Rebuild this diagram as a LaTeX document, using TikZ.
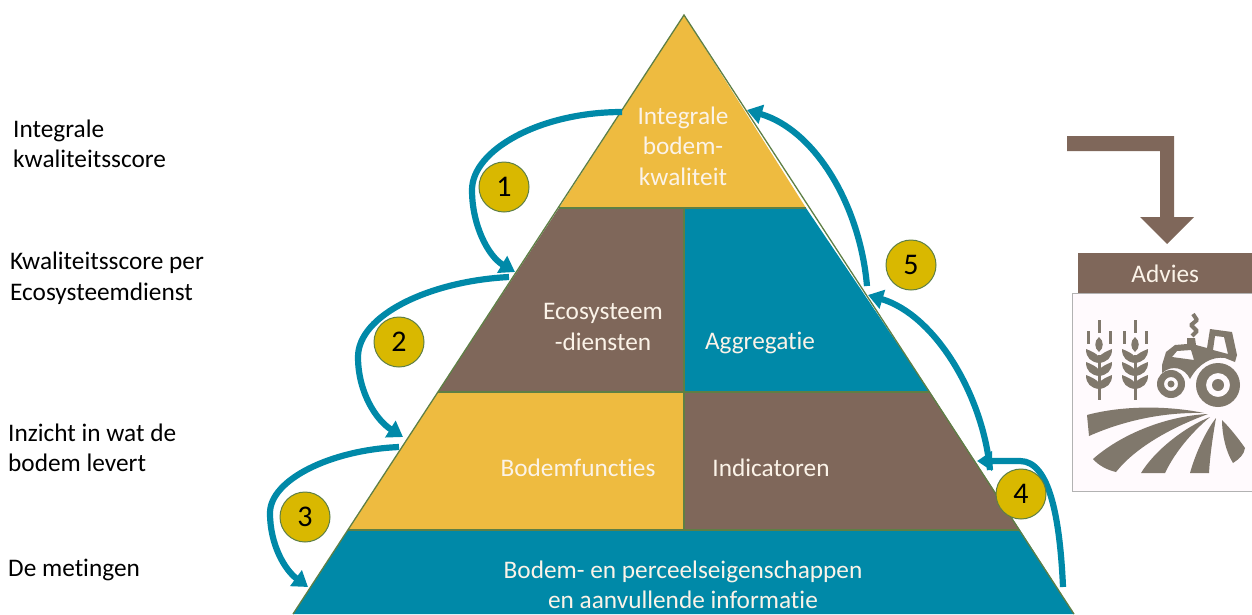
\documentclass[tikz,border=0pt]{standalone}
\usepackage{fontspec}
\setmainfont[Ligatures=NoCommon]{Carlito}
\usetikzlibrary{arrows.meta}
\definecolor{teal1}{HTML}{0089A8}
\definecolor{brown1}{HTML}{7F675A}
\definecolor{yellow1}{HTML}{EEBB40}
\definecolor{gold1}{HTML}{D9B800}
\definecolor{edge1}{HTML}{5E7F45}
\definecolor{icon1}{HTML}{80786C}
\definecolor{light1}{HTML}{FBF3E8}
\tikzset{
    layer/.style={draw=edge1, line width=1.3pt},
    lab/.style={font=\fontsize{25.3}{28}\selectfont, anchor=base west, inner sep=0pt},
    inlab/.style={font=\fontsize{25.3}{30.5}\selectfont, text=light1, align=center, inner sep=0pt},
    num/.style={circle, draw=edge1, line width=1pt, fill=gold1, minimum size=50pt, inner sep=0pt, font=\fontsize{30}{30}\selectfont},
    flow/.style={draw=teal1, line width=6.2pt, -{Triangle[length=15pt,width=19pt]}},
}
\begin{document}
\begin{tikzpicture}[x=1pt,y=-1pt]
    \useasboundingbox (0,0) rectangle (1252,614);

    \coordinate (apex) at (684,15);
    \coordinate (l1) at (559,208);
    \coordinate (r1) at (806,208);
    \coordinate (l2) at (438,392);
    \coordinate (r2) at (930,392);
    \coordinate (l3) at (348,530);
    \coordinate (r3) at (1020,530);
    \coordinate (l4) at (293,614);
    \coordinate (r4) at (1074,614);
    \coordinate (m1) at (684,208);
    \coordinate (m2) at (684,392);
    \coordinate (m3) at (684,530);

    \fill[teal1] (l3) -- (r3) -- (r4) -- (l4) -- cycle;
    \fill[yellow1] (apex) -- (r1) -- (l1) -- cycle;
    \fill[brown1] (l1) -- (m1) -- (m2) -- (l2) -- cycle;
    \fill[teal1] (m1) -- (r1) -- (r2) -- (m2) -- cycle;
    \fill[yellow1] (l2) -- (m2) -- (m3) -- (l3) -- cycle;
    \fill[brown1] (m2) -- (r2) -- (r3) -- (m3) -- cycle;
    \draw[layer] (l1) -- (r1) (l2) -- (r2) (l3) -- (r3) (m1) -- (m3);
    \draw[layer] (l4) -- (apex) -- (r4);

    \node[inlab] (top) at (683,146) {Integrale\\bodem-\\kwaliteit};
    \node[inlab] (eco) at (603,327) {Ecosysteem\\-diensten};
    \node[inlab] (agg) at (760,343) {Aggregatie};
    \node[inlab] (fun) at (578,468) {Bodemfuncties};
    \node[inlab] (ind) at (771,468) {Indicatoren};
    \node[inlab] (base) at (683,585) {Bodem- en perceelseigenschappen\\en aanvullende informatie};

    \node[lab] (t1) at (13,137) {Integrale};
    \node[lab] (t2) at (13,167) {kwaliteitsscore};
    \node[lab] (t3) at (10,269) {Kwaliteitsscore per};
    \node[lab] (t4) at (10,300) {Ecosysteemdienst};
    \node[lab] (t5) at (8,441) {Inzicht in wat de};
    \node[lab] (t6) at (8,471) {bodem levert};
    \node[lab] (t7) at (8,576) {De metingen};

    % ends of the arrows
    \coordinate (a1s) at (622,112);
    \coordinate (a1e) at (515,272);
    \coordinate (a2s) at (509,277);
    \coordinate (a2e) at (403,437);
    \coordinate (a3s) at (399,447);
    \coordinate (a3e) at (308,587);
    \coordinate (a4s) at (1063,587);
    \coordinate (a4e) at (977,461);
    \coordinate (a5s) at (990,470);
    \coordinate (a5e) at (868,295);
    \coordinate (a6s) at (867,286);
    \coordinate (a6e) at (747,110);

    \draw[flow] (a1s) .. controls (540,112) and (472,150) .. (472,190) .. controls (472,225) and (488,256) .. (a1e);
    \draw[flow] (a2s) .. controls (430,281) and (358,315) .. (358,357) .. controls (358,392) and (376,420) .. (a2e);
    \draw[flow] (a3s) .. controls (330,450) and (270,480) .. (270,513) .. controls (270,545) and (285,570) .. (a3e);
    \draw[flow] (a4s) .. controls (1060,520) and (1050,461) .. (1020,461) -- (a4e);
    \draw[flow] (a5s) .. controls (983,395) and (935,315) .. (a5e);
    \draw[flow] (a6s) .. controls (860,205) and (815,130) .. (a6e);

    \node[num] (n1) at (504,187) {1};
    \node[num] (n2) at (399,342) {2};
    \node[num] (n3) at (305,517) {3};
    \node[num] (n4) at (1021,494) {4};
    \node[num] (n5) at (911,265) {5};

    % advice column
    \fill[brown1] (1067,136) -- (1174,136) -- (1174,217) -- (1194,217) -- (1167,244) -- (1140,217) -- (1160,217) -- (1160,151) -- (1067,151) -- cycle;
    \node[draw=black!30, fill=white!98!magenta, line width=0.6pt, minimum width=180pt, minimum height=198pt, inner sep=0pt, anchor=north west] (pic) at (1072,293) {};
    \node[fill=brown1, text=light1, font=\fontsize{25.3}{28}\selectfont, minimum width=174pt, minimum height=40pt, inner sep=0pt, text height=18pt, text depth=0pt, anchor=north west] (adv) at (1078,253) {Advies};

    % wheat
    \foreach \x in {1099,1135} {
        \begin{scope}[shift={(\x,0)}]
            \draw[icon1, line width=3pt] (0,320) -- (0,333) (-11,331) -- (-11,344) (11,331) -- (11,344) (0,355) -- (0,400);
            \fill[icon1] (0,337) .. controls (5,341) and (5,348) .. (0,352) .. controls (-5,348) and (-5,341) .. (0,337) -- cycle;
            \foreach \y in {350,363,376} {
                \fill[icon1] (0,\y+7) .. controls (-3,\y+3) and (-8,\y+1) .. (-13,\y-1) .. controls (-13,\y+8) and (-8,\y+12) .. (0,\y+13) -- cycle;
                \fill[icon1] (0,\y+7) .. controls (3,\y+3) and (8,\y+1) .. (13,\y-1) .. controls (13,\y+8) and (8,\y+12) .. (0,\y+13) -- cycle;
            }
        \end{scope}
    }

    % tractor
    \fill[icon1, even odd rule] (1162,365) -- (1166,352) -- (1175,345) -- (1187,344) -- (1187,338) -- (1195,338) -- (1196,345) -- (1207,348) -- (1210,329) -- (1232,332) -- (1237,355) -- (1235,362) -- (1225,358) .. controls (1212,356) and (1198,364) .. (1190,379) .. controls (1185,368) and (1172,364) .. (1162,373) -- cycle
        (1172,357) -- (1177,351) -- (1191,350) -- (1194,360) -- cycle
        (1215,336) -- (1224,337) -- (1228,354) -- (1213,350) -- cycle;
    \draw[icon1, line width=4pt, line join=bevel] (1193,314) -- (1197,320) -- (1191,325) -- (1197,331) -- (1192,336);
    \fill[icon1, even odd rule] (1218,385) circle (22) (1218,385) circle (12) (1218,385) circle (6);
    \fill[icon1, even odd rule] (1171,384) circle (14) (1171,384) circle (7) (1171,384) circle (3.5);

    % field
    \fill[icon1] (1087,415) .. controls (1120,406) and (1165,405) .. (1204,413) .. controls (1165,412) and (1125,420) .. (1089,436) -- cycle;
    \fill[icon1] (1208,414) .. controls (1165,416) and (1120,435) .. (1093,459) .. controls (1098,465) and (1107,470) .. (1116,472) .. controls (1135,448) and (1170,428) .. (1208,414) -- cycle;
    \fill[icon1] (1210,417) .. controls (1185,427) and (1155,450) .. (1141,473) -- (1165,473) .. controls (1175,452) and (1192,432) .. (1210,417) -- cycle;
    \fill[icon1] (1216,418) .. controls (1205,432) and (1195,455) .. (1190,473) -- (1209,473) .. controls (1210,455) and (1213,435) .. (1216,418) -- cycle;
    \fill[icon1] (1222,420) .. controls (1222,435) and (1226,452) .. (1233,463) .. controls (1239,459) and (1244,455) .. (1245,448) .. controls (1238,438) and (1230,428) .. (1222,420) -- cycle;
\end{tikzpicture}
\end{document}
